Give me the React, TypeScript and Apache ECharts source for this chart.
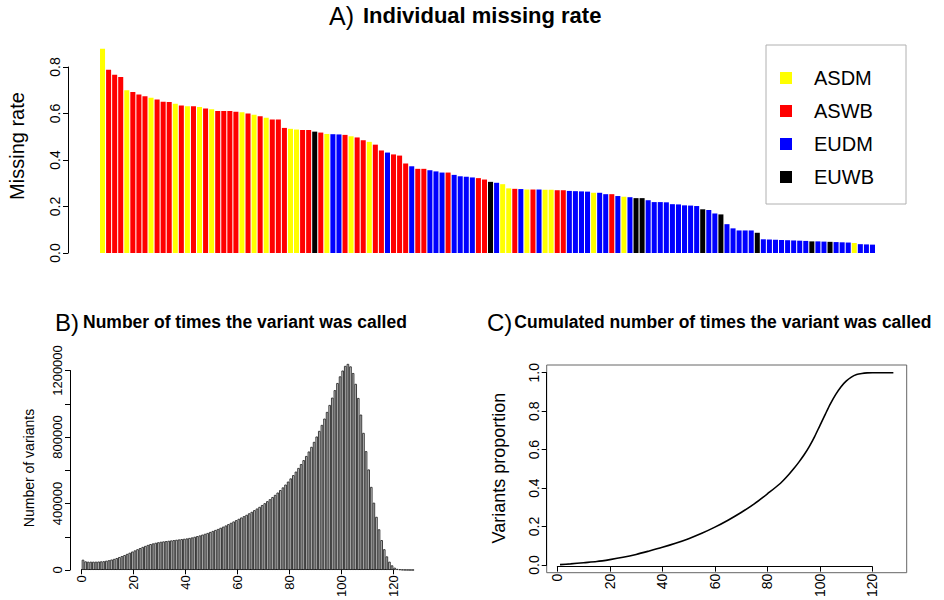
import React, { useEffect, useRef } from "react";
import * as echarts from "echarts";

// ---------- Panel A: individual missing rate ----------
const groupNames = ["ASDM", "ASWB", "EUDM", "EUWB"];
const groupColors = ["#ffff00", "#ff0000", "#0000ff", "#000000"];
// Y = ASDM, R = ASWB, B = EUDM, K = EUWB (one code per individual, in plotted order)
const groupCodes = [
  "Y","R","R","R","Y","R","R","R","Y","R",
  "R","R","Y","R","Y","R","Y","R","Y","R",
  "R","R","R","Y","R","Y","R","Y","R","R",
  "R","Y","Y","R","R","K","R","Y","B","B",
  "R","Y","R","R","Y","R","R","B","R","R",
  "R","B","R","R","B","B","B","R","B","B",
  "B","B","R","R","K","B","Y","Y","R","B",
  "Y","R","B","Y","Y","R","R","B","B","B",
  "B","Y","B","B","R","B","Y","B","K","K",
  "B","B","B","B","B","B","B","B","B","K",
  "B","B","K","B","B","B","B","B","K","B",
  "B","B","B","B","B","B","B","K","B","B",
  "K","B","B","B","Y","B","B","B",
];
const codeToGroup: Record<string, string> = { Y: "ASDM", R: "ASWB", B: "EUDM", K: "EUWB" };
const missingRate = [
  0.878, 0.788, 0.767, 0.757, 0.700, 0.692, 0.682, 0.674, 0.668, 0.660,
  0.651, 0.650, 0.642, 0.634, 0.631, 0.631, 0.628, 0.622, 0.618, 0.611,
  0.611, 0.611, 0.608, 0.605, 0.600, 0.595, 0.588, 0.582, 0.574, 0.574,
  0.538, 0.534, 0.531, 0.529, 0.529, 0.522, 0.518, 0.512, 0.511, 0.510,
  0.508, 0.502, 0.497, 0.485, 0.478, 0.466, 0.441, 0.432, 0.424, 0.419,
  0.385, 0.373, 0.362, 0.362, 0.356, 0.351, 0.346, 0.346, 0.336, 0.330,
  0.328, 0.325, 0.322, 0.316, 0.306, 0.302, 0.296, 0.278, 0.276, 0.275,
  0.273, 0.273, 0.273, 0.272, 0.272, 0.270, 0.270, 0.267, 0.266, 0.265,
  0.264, 0.259, 0.259, 0.253, 0.253, 0.245, 0.242, 0.240, 0.236, 0.236,
  0.227, 0.219, 0.219, 0.218, 0.210, 0.209, 0.205, 0.204, 0.202, 0.188,
  0.185, 0.170, 0.166, 0.124, 0.106, 0.097, 0.097, 0.097, 0.087, 0.059,
  0.058, 0.057, 0.056, 0.055, 0.054, 0.053, 0.052, 0.050, 0.050, 0.049,
  0.048, 0.047, 0.046, 0.045, 0.043, 0.038, 0.037, 0.036,
];
const individuals = missingRate.map((_, i) => `ind${i + 1}`);
const missingTicks = [0, 0.2, 0.4, 0.6, 0.8];

// ---------- Panel B: number of times the variant was called ----------
const callCountBins = Array.from({ length: 128 }, (_, i) => String(i + 1));
const variantCounts = [
  62000, 52000, 50000, 50000, 50000, 50000, 51000, 52000, 53000, 56000,
  59000, 63000, 67000, 72000, 78000, 84000, 90000, 97000, 104000, 111000,
  118000, 125000, 132000, 139000, 145000, 151000, 156000, 160000, 164000, 167000,
  170000, 172000, 174000, 176000, 178000, 180000, 182000, 184000, 186000, 188000,
  190000, 193000, 196000, 200000, 204000, 208000, 213000, 218000, 223000, 229000,
  235000, 241000, 247000, 254000, 261000, 268000, 276000, 284000, 292000, 300000,
  308000, 316000, 324000, 332000, 341000, 350000, 360000, 370000, 380000, 391000,
  402000, 414000, 426000, 439000, 452000, 466000, 481000, 497000, 514000, 532000,
  551000, 571000, 592000, 614000, 637000, 661000, 686000, 713000, 741000, 771000,
  803000, 837000, 873000, 911000, 951000, 993000, 1037000, 1082000, 1125000, 1165000,
  1200000, 1228000, 1240000, 1225000, 1185000, 1120000, 1035000, 935000, 825000, 715000,
  605000, 500000, 405000, 320000, 245000, 180000, 125000, 82000, 50000, 28000,
  14000, 7000, 4000, 2000, 1000, 600, 300, 100,
];
const countTicks = [0, 400000, 800000, 1200000];
const callTicks = [0, 20, 40, 60, 80, 100, 120];

// ---------- Panel C: cumulated proportion ----------
const cumX = [1, 5, 10, 15, 20, 25, 30, 35, 40, 45, 50, 55, 60, 65, 70, 75, 80, 85, 88, 90, 92, 94, 96, 98, 100, 102, 104, 106, 108, 110, 112, 114, 116, 118, 120, 124, 128];
const cumY = [0.002, 0.006, 0.012, 0.018, 0.028, 0.04, 0.055, 0.073, 0.092, 0.113, 0.137, 0.165, 0.197, 0.233, 0.273, 0.318, 0.37, 0.425, 0.468, 0.5, 0.535, 0.573, 0.617, 0.668, 0.725, 0.782, 0.838, 0.886, 0.926, 0.956, 0.977, 0.99, 0.996, 0.999, 1.0, 1.0, 1.0];
const proportionTicks = [0, 0.2, 0.4, 0.6, 0.8, 1.0];

const FONT = "Liberation Sans, Arial, Helvetica, sans-serif";

export default function App() {
  const ref = useRef<HTMLDivElement>(null);

  useEffect(() => {
    if (!ref.current) return;
    const chart = echarts.init(ref.current, null, { renderer: "svg" });

    const axisLine = { show: true, lineStyle: { color: "#000", width: 1 } };
    const axisTick = { show: true, inside: false, length: 5, lineStyle: { color: "#000", width: 1 } };
    const hiddenValue = (extra: any) => ({ type: "value", show: false, ...extra });

    const seriesA = groupNames.map((name, gi) => ({
      type: "bar",
      name,
      xAxisIndex: 0,
      yAxisIndex: 0,
      stack: "missing",
      barCategoryGap: "17%",
      itemStyle: { color: groupColors[gi] },
      data: missingRate.map((v, i) => (codeToGroup[groupCodes[i]] === name ? v : "-")),
    }));

    const option: any = {
      animation: false,
      backgroundColor: "#fff",
      textStyle: { fontFamily: FONT },
      title: [
        {
          text: "{a|A)}{b|Individual missing rate}",
          left: 329,
          top: 3,
          padding: 0,
          textStyle: {
            rich: {
              a: { fontFamily: FONT, fontSize: 25, color: "#000", fontWeight: "normal" },
              b: { fontFamily: FONT, fontSize: 22, color: "#000", fontWeight: "bold", padding: [0, 0, 0, 9] },
            },
          },
        },
        {
          text: "{a|B)}{b|Number of times the variant was called}",
          left: 55,
          top: 310,
          padding: 0,
          textStyle: {
            rich: {
              a: { fontFamily: FONT, fontSize: 24, color: "#000", fontWeight: "normal" },
              b: { fontFamily: FONT, fontSize: 17.5, color: "#000", fontWeight: "bold", padding: [0, 0, 0, 4] },
            },
          },
        },
        {
          text: "{a|C)}{b|Cumulated number of times the variant was called}",
          left: 487,
          top: 310,
          padding: 0,
          textStyle: {
            rich: {
              a: { fontFamily: FONT, fontSize: 24, color: "#000", fontWeight: "normal" },
              b: { fontFamily: FONT, fontSize: 17.5, color: "#000", fontWeight: "bold", padding: [0, 0, 0, 2] },
            },
          },
        },
      ],
      legend: {
        data: groupNames,
        orient: "vertical",
        left: 766,
        top: 45,
        padding: [23, 32, 17, 14],
        itemWidth: 12,
        itemHeight: 12,
        itemGap: 13,
        icon: "rect",
        borderColor: "#b0b0b0",
        borderWidth: 1,
        textStyle: { fontFamily: FONT, fontSize: 20, color: "#000", lineHeight: 20, padding: [0, 0, 0, 17] },
      },
      grid: [
        { left: 99.5, top: 43.75, width: 776, height: 209.25 },          // 0 A bars
        { left: 68, top: 67, width: 10, height: 186 },                   // 1 A y axis
        { left: 81.7, top: 353.9, width: 332.4, height: 216.1 },         // 2 B bars
        { left: 70, top: 370.5, width: 10, height: 199.5 },              // 3 B y axis
        { left: 81.7, top: 560, width: 311.6, height: 12 },              // 4 B x axis
        { left: 546.7, top: 365, width: 360, height: 207.7, show: true, borderColor: "#666", borderWidth: 1 }, // 5 C plot
        { left: 557.3, top: 560, width: 315, height: 12.7 },             // 6 C x axis
        { left: 546.7, top: 372.7, width: 10, height: 192.3 },           // 7 C y axis
      ],
      xAxis: [
        { type: "category", gridIndex: 0, data: individuals, show: false },
        hiddenValue({ gridIndex: 1, min: 0, max: 1 }),
        { type: "category", gridIndex: 2, data: callCountBins, show: false },
        hiddenValue({ gridIndex: 3, min: 0, max: 1 }),
        {
          type: "value", gridIndex: 4, min: callTicks[0], max: callTicks[callTicks.length - 1], interval: 20,
          axisLine, axisTick, splitLine: { show: false },
          axisLabel: { rotate: 90, fontSize: 13, color: "#000", margin: 6, fontFamily: FONT },
        },
        hiddenValue({ gridIndex: 5, min: -4.08, max: 133.08 }),
        {
          type: "value", gridIndex: 6, min: callTicks[0], max: callTicks[callTicks.length - 1], interval: 20,
          axisLine, axisTick, splitLine: { show: false },
          axisLabel: { rotate: 90, fontSize: 14, color: "#000", margin: 7, fontFamily: FONT },
        },
        hiddenValue({ gridIndex: 7, min: 0, max: 1 }),
      ],
      yAxis: [
        hiddenValue({ gridIndex: 0, min: 0, max: 0.9 }),
        {
          type: "value", gridIndex: 1, min: missingTicks[0], max: missingTicks[missingTicks.length - 1], interval: 0.2,
          axisLine, axisTick, splitLine: { show: false },
          axisLabel: { rotate: 90, fontSize: 14, color: "#000", margin: 6, fontFamily: FONT, formatter: (v: number) => v.toFixed(1) },
        },
        hiddenValue({ gridIndex: 2, min: 0, max: 1300000 }),
        {
          type: "value", gridIndex: 3, min: 0, max: countTicks[countTicks.length - 1], interval: 200000,
          axisLine, axisTick, splitLine: { show: false },
          axisLabel: {
            rotate: 90, fontSize: 13, color: "#000", margin: 6, fontFamily: FONT,
            formatter: (v: number) => (countTicks.indexOf(v) >= 0 ? String(v) : ""),
          },
        },
        hiddenValue({ gridIndex: 4, min: 0, max: 1 }),
        hiddenValue({ gridIndex: 5, min: -0.04, max: 1.04 }),
        hiddenValue({ gridIndex: 6, min: 0, max: 1 }),
        {
          type: "value", gridIndex: 7, min: proportionTicks[0], max: proportionTicks[proportionTicks.length - 1], interval: 0.2,
          axisLine, axisTick, splitLine: { show: false },
          axisLabel: { rotate: 90, fontSize: 14, color: "#000", margin: 6, fontFamily: FONT, formatter: (v: number) => v.toFixed(1) },
        },
      ],
      series: [
        ...seriesA,
        {
          type: "bar",
          name: "Number of variants",
          xAxisIndex: 2,
          yAxisIndex: 2,
          barCategoryGap: 0,
          data: variantCounts,
          itemStyle: { color: "#d0d0d0", borderColor: "#2a2a2a", borderWidth: 0.9 },
        },
        {
          type: "line",
          name: "Variants proportion",
          xAxisIndex: 5,
          yAxisIndex: 5,
          showSymbol: false,
          smooth: 0.3,
          lineStyle: { color: "#000", width: 1.6 },
          data: cumX.map((x, i) => [x, cumY[i]]),
        },
      ],
      graphic: [
        { type: "text", x: 17, y: 146, rotation: Math.PI / 2, style: { text: "Missing rate", fontSize: 20, fontFamily: FONT, fill: "#000", align: "center", verticalAlign: "middle" } },
        { type: "text", x: 29, y: 468, rotation: Math.PI / 2, style: { text: "Number of variants", fontSize: 14, fontFamily: FONT, fill: "#000", align: "center", verticalAlign: "middle" } },
        { type: "text", x: 499, y: 468, rotation: Math.PI / 2, style: { text: "Variants proportion", fontSize: 18, fontFamily: FONT, fill: "#000", align: "center", verticalAlign: "middle" } },
      ],
    };

    chart.setOption(option);
    return () => chart.dispose();
  }, []);

  return (
    <div
      ref={ref}
      style={{ position: "fixed", left: 0, top: 0, width: 944, height: 600, background: "#fff" }}
    />
  );
}
